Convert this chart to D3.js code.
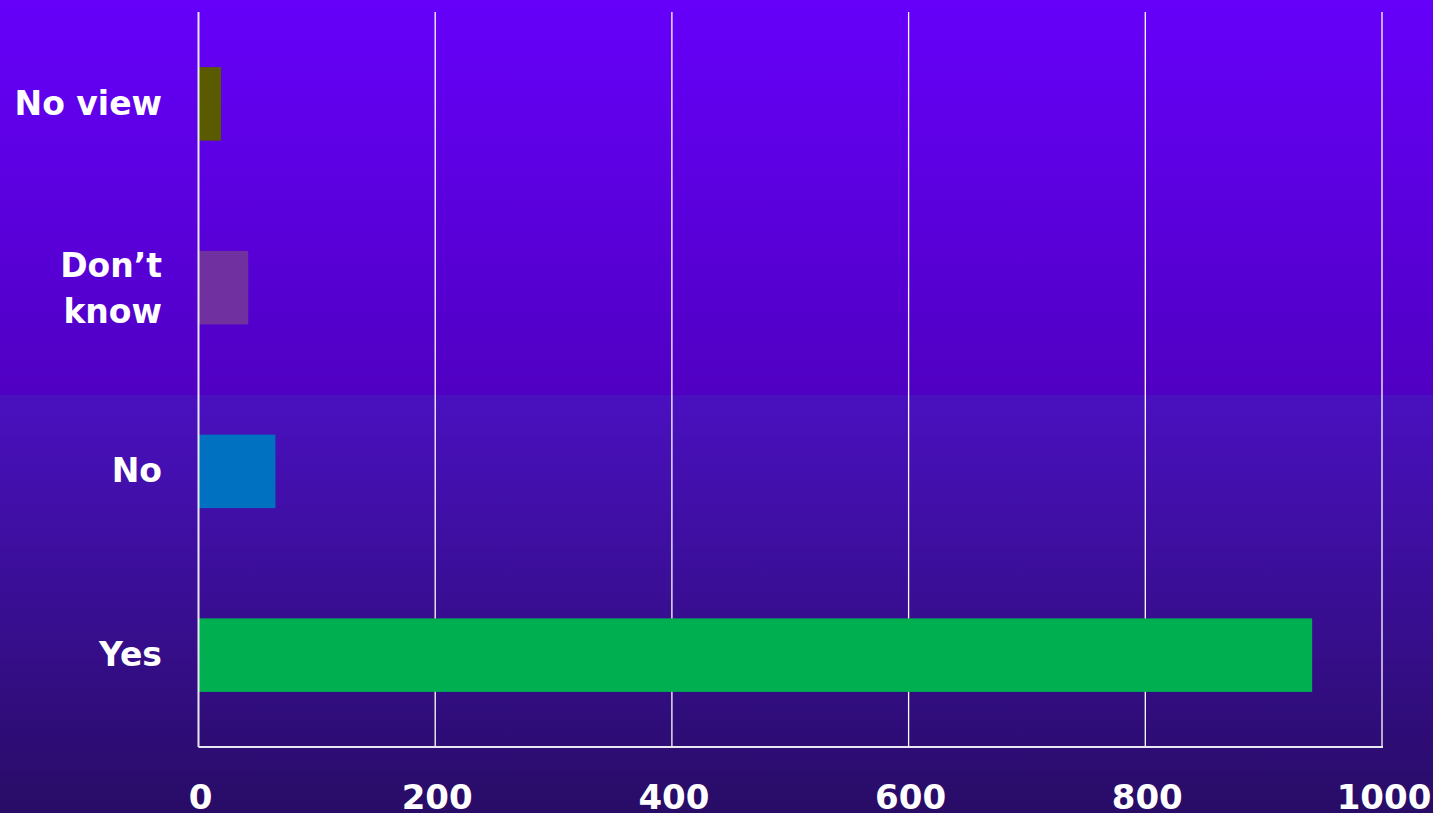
<!DOCTYPE html>
<html><head><meta charset="utf-8">
<script src="https://cdn.jsdelivr.net/npm/d3@7"></script>
<style>html,body{margin:0;padding:0;overflow:hidden;}svg{display:block;}</style>
</head><body>
<svg id="chart" width="1433" height="813"></svg>
<script>
const categories = ["No view", "Don\u2019t know", "No", "Yes"];
const values = [19, 42, 65, 941];
const barColors = ["#5a5a00", "#7030a0", "#0070c0", "#00b050"];
const xTicks = [0, 200, 400, 600, 800, 1000];

const W = 1433, H = 813;
const m = {left: 198.5, right: 1382, top: 12, bottom: 747};
const svg = d3.select("#chart");
const FONT = "'DejaVu Sans', Verdana, sans-serif";

const defs = svg.append("defs");
const g1 = defs.append("linearGradient").attr("id","bgTop").attr("x1",0).attr("y1",0).attr("x2",0).attr("y2",1);
g1.append("stop").attr("offset","0%").attr("stop-color","#6600fa");
g1.append("stop").attr("offset","100%").attr("stop-color","#5000c2");
const g2 = defs.append("linearGradient").attr("id","bgBot").attr("x1",0).attr("y1",0).attr("x2",0).attr("y2",1);
g2.append("stop").attr("offset","0%").attr("stop-color","#4a10c0");
g2.append("stop").attr("offset","100%").attr("stop-color","#280c66");
svg.append("rect").attr("x",0).attr("y",0).attr("width",W).attr("height",395).attr("fill","url(#bgTop)");
svg.append("rect").attr("x",0).attr("y",395).attr("width",W).attr("height",H-395).attr("fill","url(#bgBot)");

const x = d3.scaleLinear().domain([0,1000]).range([m.left, m.right]);
const y = d3.scaleBand().domain(categories).range([m.top, m.bottom]).paddingInner(0.6).paddingOuter(0.3);

// gridlines
svg.append("g").selectAll("line").data(xTicks.slice(1)).join("line")
  .attr("x1", d=>x(d)).attr("x2", d=>x(d)).attr("y1", m.top).attr("y2", m.bottom)
  .attr("stroke","#ffffff").attr("stroke-width",1.3);

// bars
svg.append("g").selectAll("rect").data(categories).join("rect")
  .attr("x", x(0)).attr("y", d=>y(d))
  .attr("width", (d,i)=>x(values[i]) - x(0))
  .attr("height", y.bandwidth())
  .attr("fill", (d,i)=>barColors[i]);

// axis lines
svg.append("line").attr("x1",m.left).attr("x2",m.left).attr("y1",m.top).attr("y2",m.bottom)
  .attr("stroke","#e8e8f0").attr("stroke-width",2);
svg.append("line").attr("x1",m.left).attr("x2",m.right+1).attr("y1",m.bottom).attr("y2",m.bottom)
  .attr("stroke","#e8e8f0").attr("stroke-width",2);

// x tick labels
svg.append("g").selectAll("text").data(xTicks).join("text")
  .attr("x", d=>x(d)+2).attr("y", 809)
  .attr("text-anchor","middle")
  .attr("font-family",FONT)
  .attr("font-weight","bold").attr("font-size",34).attr("fill","#ffffff")
  .text(d=>d);

// y labels
const yl = svg.append("g").selectAll("text").data(categories).join("text")
  .attr("text-anchor","end")
  .attr("font-family",FONT)
  .attr("font-weight","bold").attr("font-size",33).attr("fill","#ffffff");
yl.each(function(d){
  const t = d3.select(this);
  const cy = y(d) + y.bandwidth()/2;
  if (d === "Don\u2019t know") {
    t.append("tspan").attr("x",162).attr("y", cy - 11).text("Don\u2019t");
    t.append("tspan").attr("x",162).attr("y", cy + 35).text("know");
  } else {
    t.append("tspan").attr("x",162).attr("y", cy + 11).text(d);
  }
});
</script>
</body></html>
